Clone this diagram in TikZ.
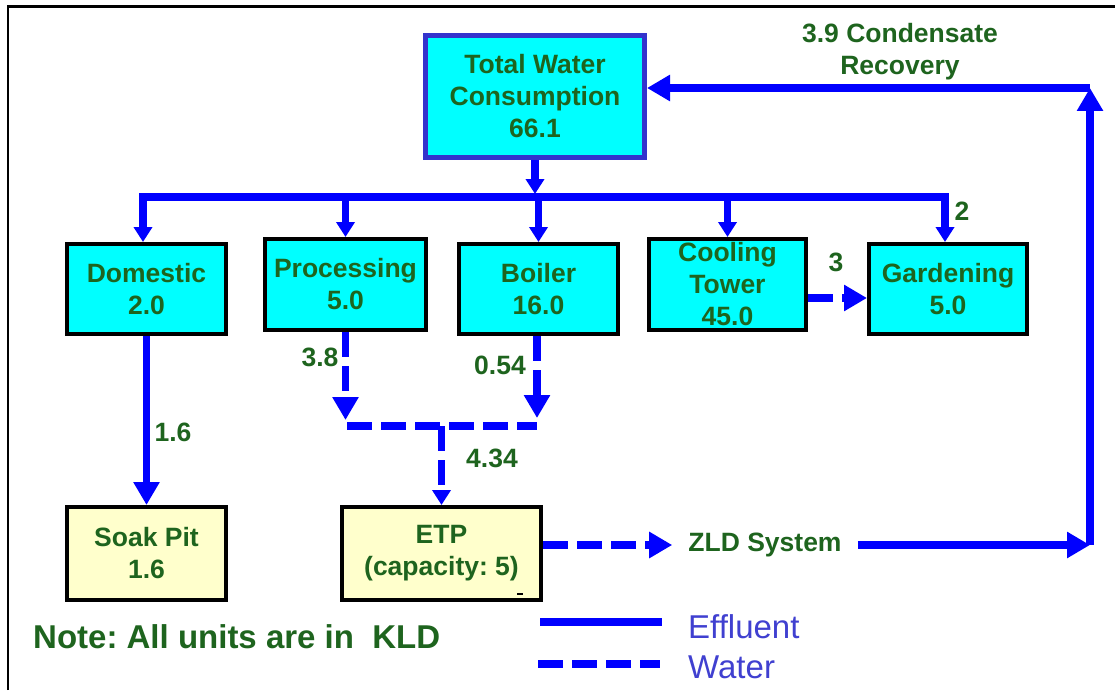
\documentclass[tikz,border=0pt]{standalone}
\usepackage{fontspec}
\setmainfont{Liberation Sans}
\usetikzlibrary{arrows.meta}
\definecolor{txtgreen}{RGB}{30,100,30}
\definecolor{flowblue}{RGB}{0,0,255}
\definecolor{boxcyan}{RGB}{0,255,255}
\definecolor{boxyellow}{RGB}{255,255,204}
\definecolor{totborder}{RGB}{51,51,204}
\definecolor{legtext}{RGB}{64,64,208}
\frenchspacing
\begin{document}
\begin{tikzpicture}[x=1pt,y=-1pt,
  lbl/.style={text=txtgreen, font=\fontsize{26.5}{32}\selectfont\bfseries, inner sep=0pt},
  unitbox/.style={lbl, draw=black, line width=4pt, fill=boxcyan, align=center},
  pitbox/.style={unitbox, fill=boxyellow},
  eff/.style={draw=flowblue, line width=7.5pt},
  wat/.style={eff, dash pattern=on 25pt off 9pt},
  bigtip/.style={-{Triangle[width=25pt,length=23pt]}},
  smalltip/.style={-{Triangle[width=18pt,length=15pt]}},
  legtxt/.style={text=legtext, font=\fontsize{33}{38}\selectfont, inner sep=0pt, anchor=west}
]
\useasboundingbox (0,0) rectangle (1115,690);
% outer frame
\draw[line width=2.5pt] (8,690) -- (8,6.5) -- (1115,6.5);

% boxes
\node[unitbox, draw=totborder, line width=5pt, minimum width=219pt, minimum height=122pt] (total) at (535,96.5) {Total Water\\Consumption\\66.1};
\node[unitbox, minimum width=159pt, minimum height=90pt] (dom) at (146.5,289) {Domestic\\2.0};
\node[unitbox, minimum width=161pt, minimum height=91pt] (proc) at (345.5,284.5) {Processing\\5.0};
\node[unitbox, minimum width=159pt, minimum height=90pt] (boil) at (538.5,289) {Boiler\\16.0};
\node[unitbox, minimum width=157pt, minimum height=91pt] (cool) at (727.5,284.5) {Cooling\\Tower\\45.0};
\node[unitbox, minimum width=158pt, minimum height=90pt] (gar) at (948,289) {Gardening\\5.0};
\node[pitbox, minimum width=159pt, minimum height=93pt] (soak) at (146.5,553.5) {Soak Pit\\1.6};
\node[pitbox, minimum width=199pt, minimum height=93pt] (etp) at (441.5,553.5) {ETP\\(capacity: 5)};
\draw[line width=2pt] (517,594) -- (523,594);
\node[lbl, inner xsep=16pt] (zld) at (765,545) {ZLD System};

% junction coordinates
\coordinate (bl) at (143,197);
\coordinate (br) at (945,197);
\coordinate (jl) at (347,426);
\coordinate (jr) at (537,426);
\coordinate (cr) at (1090,545);
\coordinate (ctop) at (1090,88);

% supply bus
\draw[eff, smalltip, shorten >=3pt] (total.south) -- (total.south |- bl);
\draw[eff, {Triangle[width=18pt,length=15pt]}-{Triangle[width=18pt,length=15pt]}] (bl |- dom.north) -- (bl) -- (br) -- (br |- gar.north);
\draw[eff, smalltip] (proc.north |- bl) -- (proc.north);
\draw[eff, smalltip] (boil.north |- bl) -- (boil.north);
\draw[eff, smalltip] (cool.north |- bl) -- (cool.north);

% flows
\draw[wat, bigtip] ([yshift=-13.5pt]cool.east) -- ([yshift=-9pt]gar.west);
\draw[eff, bigtip] (dom.south) -- (soak.north);
\draw[wat, bigtip, shorten >=6pt] (proc.south) -- (proc.south |- jl);
\draw[wat, bigtip, shorten >=8pt] (boil.south -| jr) -- (jr);
\draw[wat] (jl) -- (jr);
\draw[wat, smalltip, line width=6.5pt] (etp.north |- jl) -- (etp.north);
\draw[wat, bigtip] ([yshift=8.5pt]etp.east) -- (zld.west);
\draw[eff, bigtip] (zld.east) -- (cr);
\draw[eff, bigtip] (cr) -- (ctop);
\draw[eff, bigtip] (ctop) -- (total.east |- ctop);

% labels
\node[lbl] (l2) at (962,211) {2};
\node[lbl] (l3) at (836,262) {3};
\node[lbl] (l38) at (320,357) {3.8};
\node[lbl] (l054) at (500,365) {0.54};
\node[lbl] (l434) at (492,458) {4.34};
\node[lbl] (l16) at (173,432) {1.6};
\node[lbl, align=center] (lcond) at (900,52) {3.9 Condensate\\Recovery};
\node[lbl, font=\fontsize{33}{38}\selectfont\bfseries, anchor=west] (note) at (33,637) {Note: All units are in~~KLD};

% legend
\coordinate (le1) at (540,622);
\coordinate (le2) at (662,622);
\coordinate (lw1) at (538,664);
\coordinate (lw2) at (660,664);
\draw[eff] (le1) -- (le2);
\draw[wat] (lw1) -- (lw2);
\node[legtxt] (leff) at (688,627) {Effluent};
\node[legtxt] (lwat) at (688,667) {Water};
\end{tikzpicture}
\end{document}
